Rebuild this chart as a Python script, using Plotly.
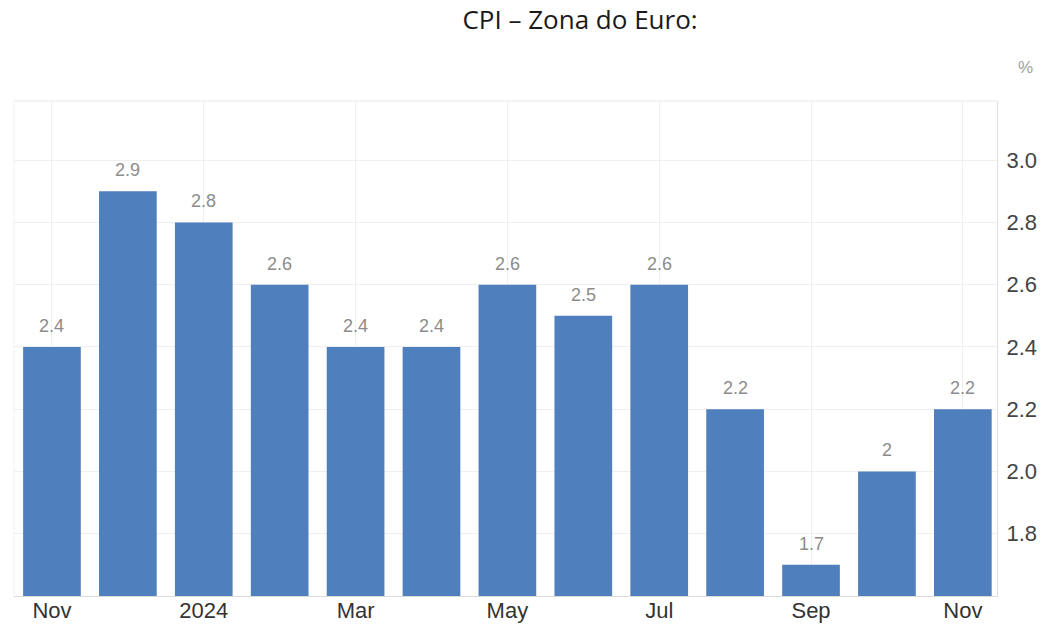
import plotly.graph_objects as go

months = ["Nov 2023", "Dec 2023", "Jan 2024", "Feb 2024", "Mar 2024", "Apr 2024",
          "May 2024", "Jun 2024", "Jul 2024", "Aug 2024", "Sep 2024", "Oct 2024", "Nov 2024"]
cpi = [2.4, 2.9, 2.8, 2.6, 2.4, 2.4, 2.6, 2.5, 2.6, 2.2, 1.7, 2.0, 2.2]
labels = ["2.4", "2.9", "2.8", "2.6", "2.4", "2.4", "2.6", "2.5", "2.6", "2.2", "1.7", "2", "2.2"]
tick_months = ["Nov 2023", "Jan 2024", "Mar 2024", "May 2024", "Jul 2024", "Sep 2024", "Nov 2024"]
tick_text = ["Nov", "2024", "Mar", "May", "Jul", "Sep", "Nov"]
y_ticks = [1.8, 2.0, 2.2, 2.4, 2.6, 2.8, 3.0]
y_tick_text = ["1.8", "2.0", "2.2", "2.4", "2.6", "2.8", "3.0"]

fig = go.Figure()
fig.add_trace(go.Bar(
    x=months, y=cpi, marker=dict(color="#4f80bd", line=dict(width=0)),
    width=0.76, hoverinfo="x+y",
))

annotations = [
    dict(x=m, y=v, text=t, showarrow=False, yanchor="bottom", yshift=9,
         font=dict(family="Liberation Sans, Arial", size=18, color="#8c8c8c"))
    for m, v, t in zip(months, cpi, labels)
]
annotations.append(dict(xref="paper", yref="paper", x=1.0285, y=1.067, text="%",
                        xanchor="center", yanchor="middle",
                        showarrow=False, font=dict(family="Liberation Sans, Arial", size=17, color="#a0a0a0")))

fig.update_layout(
    width=1040, height=625,
    margin=dict(l=14, r=43, t=101, b=29, autoexpand=False),
    paper_bgcolor="white", plot_bgcolor="white",
    title=dict(text="CPI – Zona do Euro:", x=0.5577, xanchor="center", y=0.968, yanchor="middle",
               font=dict(family="Open Sans, Noto Sans", size=26, color="#1a1a1a")),
    showlegend=False,
    annotations=annotations,
    xaxis=dict(
        type="category", range=[-0.5, 12.45], automargin=False,
        tickmode="array", tickvals=tick_months, ticktext=tick_text,
        showgrid=True, gridcolor="#efefef", gridwidth=1,
        showline=True, linecolor="#dcdcdc", linewidth=1,
        ticks="", ticklen=0, ticklabelstandoff=-5,
        tickfont=dict(family="Liberation Sans, Arial", size=22, color="#333333"),
    ),
    yaxis=dict(
        side="right", range=[1.6, 3.19], automargin=False,
        tickmode="array", tickvals=y_ticks, ticktext=y_tick_text,
        showgrid=True, gridcolor="#efefef", gridwidth=1,
        showline=True, linecolor="#e0e0e0", linewidth=1,
        zeroline=False, ticks="", ticklen=0, ticklabelstandoff=4,
        tickfont=dict(family="Liberation Sans, Arial", size=22, color="#444444"),
    ),
    shapes=[
        dict(type="line", xref="paper", yref="paper", x0=0, x1=1, y0=1, y1=1,
             line=dict(color="#e8e8e8", width=1)),
        dict(type="line", xref="paper", yref="paper", x0=0, x1=0, y0=0, y1=1,
             line=dict(color="#f0f0f0", width=1)),
    ],
)

fig.write_html("out.html", config={"displayModeBar": False},
               post_script="document.body.style.margin='0';document.body.style.overflow='hidden';")
